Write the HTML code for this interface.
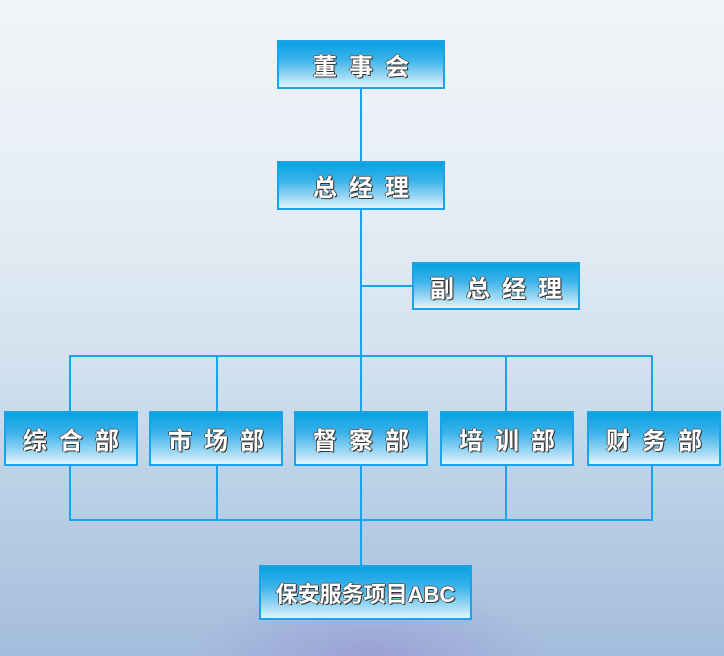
<!DOCTYPE html>
<html><head><meta charset="utf-8"><style>
html,body{margin:0;width:724px;height:656px;overflow:hidden}
#c{position:relative;width:724px;height:656px;overflow:hidden;
background:radial-gradient(ellipse 180px 70px at 370px 656px,rgba(150,150,210,.7),rgba(150,150,210,0)),linear-gradient(180deg,#f1f4f8 0%,#e6eef5 30%,#d3e2ef 55%,#b9d0e6 75%,#a5bddd 100%);
font-family:"Liberation Sans","Noto Sans CJK SC",sans-serif}
.b{position:absolute;box-sizing:border-box;border:2px solid #1aa3e8;
background:linear-gradient(180deg,#08a0e2 0%,#3db4ea 40%,#a9dcf5 80%,#e2f4fc 100%);
color:#fff;font-weight:bold;font-size:24px;display:flex;align-items:center;justify-content:center;
letter-spacing:12px;text-shadow:1px 1px 0 #333,-1px 0 0 #555,0 -1px 0 #666,1px 0 0 #444}
.b span{margin-right:-12px}
.l{position:absolute;background:#1aa3e8}
</style></head><body><div id="c">
<div class="l" style="left:360px;top:88px;width:2px;height:477px"></div>
<div class="l" style="left:361px;top:285px;width:51px;height:2px"></div>
<div class="l" style="left:69px;top:355px;width:584px;height:2px"></div>
<div class="l" style="left:69px;top:519px;width:584px;height:2px"></div>
<div class="l" style="left:69px;top:355px;width:2px;height:166px"></div>
<div class="l" style="left:216px;top:355px;width:2px;height:166px"></div>
<div class="l" style="left:505px;top:355px;width:2px;height:166px"></div>
<div class="l" style="left:651px;top:355px;width:2px;height:166px"></div>
<div class="b" style="left:277px;top:40px;width:168px;height:49px"><span>董事会</span></div>
<div class="b" style="left:277px;top:161px;width:168px;height:49px"><span>总经理</span></div>
<div class="b" style="left:412px;top:262px;width:168px;height:48px"><span>副总经理</span></div>
<div class="b" style="left:4px;top:411px;width:134px;height:55px"><span>综合部</span></div>
<div class="b" style="left:149px;top:411px;width:134px;height:55px"><span>市场部</span></div>
<div class="b" style="left:294px;top:411px;width:134px;height:55px"><span>督察部</span></div>
<div class="b" style="left:440px;top:411px;width:134px;height:55px"><span>培训部</span></div>
<div class="b" style="left:587px;top:411px;width:134px;height:55px"><span>财务部</span></div>
<div class="b" style="left:259px;top:565px;width:213px;height:55px;letter-spacing:0;font-size:22px"><span style="margin-right:0">保安服务项目ABC</span></div>
</div></body></html>
